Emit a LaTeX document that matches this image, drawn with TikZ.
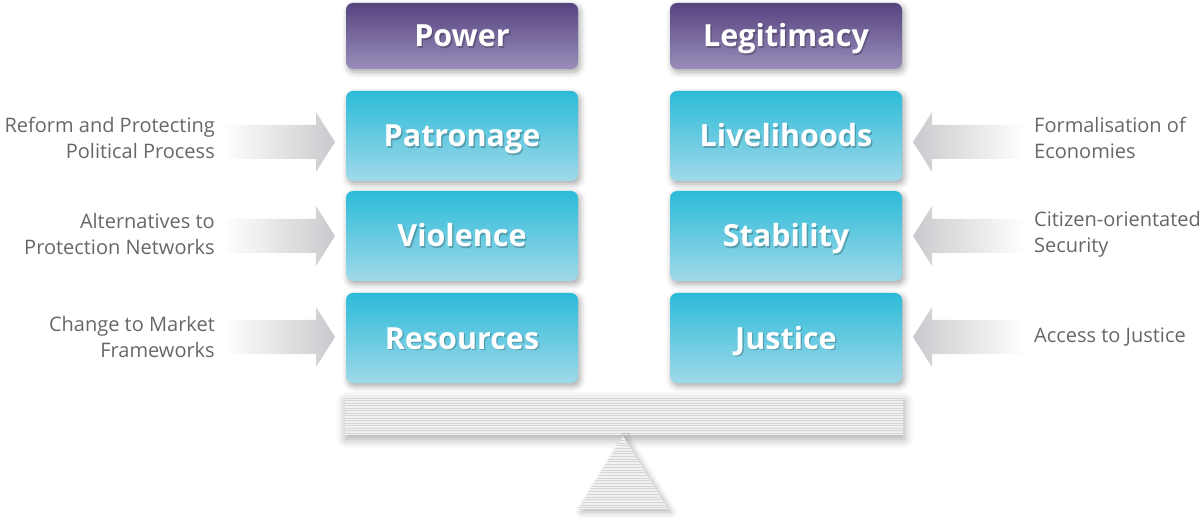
\documentclass[tikz,border=0pt]{standalone}
\usepackage{fontspec}
\setmainfont{Open Sans}
\usetikzlibrary{shadows.blur,calc}

\definecolor{purpletop}{HTML}{56447F}
\definecolor{purplebot}{HTML}{9A8DBA}
\definecolor{tealtop}{HTML}{2CBBD8}
\definecolor{tealbot}{HTML}{A0D9E9}
\definecolor{labelgray}{HTML}{66676A}
\definecolor{arrowgray}{HTML}{C9CACD}
\definecolor{beamfill}{HTML}{F0F1F2}
\definecolor{stripegray}{HTML}{D5D6D8}

\tikzset{
  card/.style={rounded corners=7pt, minimum width=232pt, inner sep=0pt,
    blur shadow={shadow xshift=2pt, shadow yshift=-3pt, shadow blur radius=6pt, shadow opacity=35}},
  headcard/.style={card, minimum height=66pt, top color=purpletop, bottom color=purplebot},
  pillar/.style={card, minimum height=90pt, top color=tealtop, bottom color=tealbot},
  cardtext/.style={font=\fontsize{30.5}{36}\selectfont\bfseries, text=white, inner sep=0pt, anchor=base},
  sidelabel/.style={font=\fontsize{20}{26}\selectfont, text=labelgray, inner sep=0pt},
  stripeline/.style={stripegray, line width=0.8pt},
}

% white lettering over a faint dark copy that reads as a soft shadow
\newcommand\shadowed[1]{%
  \rlap{\raisebox{-1.6pt}{\kern1.4pt\pgfsetfillopacity{0.22}\color{black}#1\pgfsetfillopacity{1}}}#1}
\newcommand\cardcaption[3]{% #1 node name, #2 card, #3 text
  \node[cardtext] (#1) at ($(#2.center)+(0,11)$) {\shadowed{#3}};
}
% block arrows pointing right / left, tip at the given coordinate
\newcommand\arrowright[1]{%
  \shade[left color=white, right color=arrowgray, shift={(#1)}]
    (-112,-17) -- (-19,-17) -- (-19,-30) -- (0,0) -- (-19,30) -- (-19,17) -- (-112,17) -- cycle;}
\newcommand\arrowleft[1]{%
  \shade[left color=arrowgray, right color=white, shift={(#1)}]
    (112,-17) -- (19,-17) -- (19,-30) -- (0,0) -- (19,30) -- (19,17) -- (112,17) -- cycle;}

\begin{document}
\begin{tikzpicture}[x=1pt,y=-1pt]
\useasboundingbox (0,0) rectangle (1204,518);

% column headings
\node[headcard] (power) at (462,36) {};
\node[headcard] (legit) at (786,36) {};
\cardcaption{powertext}{power}{Power}
\cardcaption{legittext}{legit}{Legitimacy}

% pillars
\node[pillar] (patron) at (462,136) {};
\node[pillar] (violence) at (462,236) {};
\node[pillar] (resource) at (462,338) {};
\node[pillar] (liveli) at (786,136) {};
\node[pillar] (stable) at (786,236) {};
\node[pillar] (justice) at (786,338) {};
\cardcaption{patrontext}{patron}{Patronage}
\cardcaption{violencetext}{violence}{Violence}
\cardcaption{resourcetext}{resource}{Resources}
\cardcaption{livelitext}{liveli}{Livelihoods}
\cardcaption{stabletext}{stable}{Stability}
\cardcaption{justicetext}{justice}{Justice}

% pressure arrows
\coordinate (tipL1) at (335,142);
\coordinate (tipL2) at (335,236);
\coordinate (tipL3) at (335,337);
\coordinate (tipR1) at (913,142);
\coordinate (tipR2) at (913,236);
\coordinate (tipR3) at (913,337);
\arrowright{tipL1}
\arrowright{tipL2}
\arrowright{tipL3}
\arrowleft{tipR1}
\arrowleft{tipR2}
\arrowleft{tipR3}

% side labels
\node[sidelabel, anchor=east, align=right] (lab1) at (215,138) {Reform and Protecting\\Political Process};
\node[sidelabel, anchor=east, align=right] (lab2) at (215,234) {Alternatives to\\Protection Networks};
\node[sidelabel, anchor=east, align=right] (lab3) at (215,337) {Change to Market\\Frameworks};
\node[sidelabel, anchor=west, align=left] (lab4) at (1034,138) {Formalisation of\\Economies};
\node[sidelabel, anchor=west, align=left] (lab5) at (1034,234) {Citizen-orientated\\Security};
\node[sidelabel, anchor=west, align=left] (lab6) at (1034,337) {Access to Justice};

% balance beam
\node[fill=beamfill, minimum width=558pt, minimum height=38pt, inner sep=0pt,
  blur shadow={shadow xshift=1pt, shadow yshift=-4pt, shadow blur radius=9pt, shadow opacity=35}] (beam) at (624,416) {};
\foreach \k in {0,...,14}
  \draw[stripeline] ($(beam.north west)+(0,1.5+2.5*\k)$) -- ($(beam.north east)+(0,1.5+2.5*\k)$);

% fulcrum
\coordinate (apex) at (623,436);
\coordinate (baseL) at (578,509);
\coordinate (baseR) at (668,509);
\fill[beamfill, blur shadow={shadow xshift=3pt, shadow yshift=-3pt, shadow blur radius=6pt, shadow opacity=30}]
  (apex) -- (baseR) -- (baseL) -- cycle;
\begin{scope}
  \clip (apex) -- (baseR) -- (baseL) -- cycle;
  \foreach \k in {0,...,27}
    \draw[stripeline] ($(apex)+(-50,1.5+2.7*\k)$) -- ($(apex)+(50,1.5+2.7*\k)$);
\end{scope}
\end{tikzpicture}
\end{document}
